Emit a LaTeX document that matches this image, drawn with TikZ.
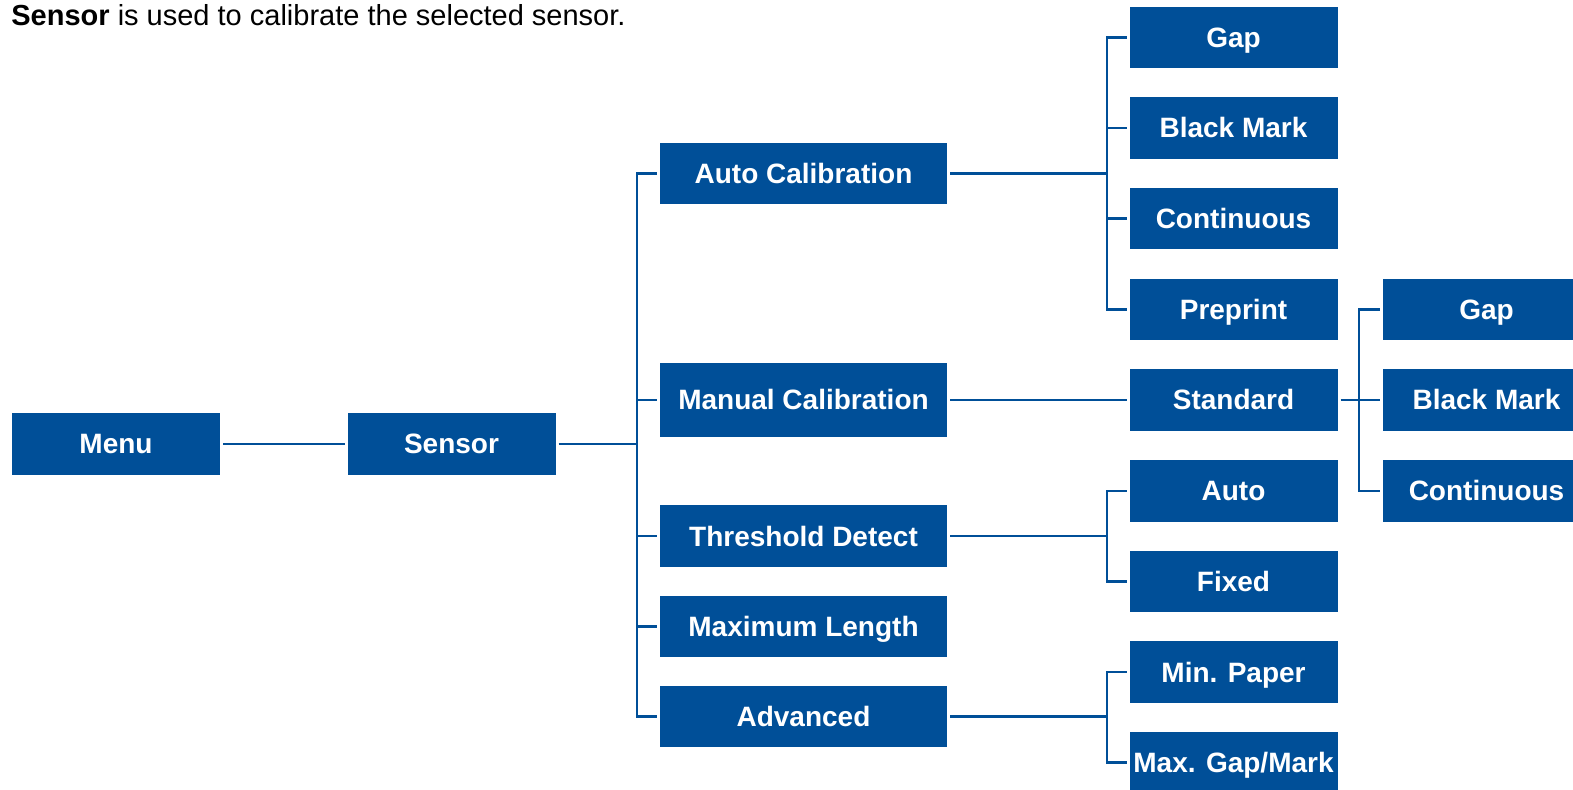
\documentclass[tikz,border=0pt]{standalone}
\usepackage{fontspec}
\setmainfont{Liberation Sans}
\definecolor{tblue}{RGB}{0,79,152}
\begin{document}
\begin{tikzpicture}[x=0.5pt,y=-0.5pt,
  box/.style={fill=tblue, text=white, font=\bfseries\fontsize{14}{16}\selectfont, inner sep=0pt, outer sep=1.5pt, minimum height=30.75pt, text height=10pt, text depth=0pt},
  boxA/.style={box, minimum width=104pt},
  boxB/.style={box, minimum width=143.5pt},
  link/.style={draw=tblue, line width=1.35pt, line join=miter}]
\useasboundingbox (0,0) rectangle (1573,790);
\clip (0,0) rectangle (1573,790);
\node[anchor=base west, inner sep=0pt, font=\fontsize{14.5}{17}\selectfont] (cap) at (11,26) {\textbf{Sensor} is used to calibrate the selected sensor.};
% level 0/1
\node[boxA] (menu) at (116,444) {Menu};
\node[boxA] (sensor) at (451.5,444) {Sensor};
% level 2
\node[boxB] (autocal) at (803.5,173.5) {Auto Calibration};
\node[boxB, minimum height=37pt] (manual) at (803.5,400) {Manual Calibration};
\node[boxB] (thresh) at (803.5,536) {Threshold Detect};
\node[boxB] (maxlen) at (803.5,626.5) {Maximum Length};
\node[boxB] (adv) at (803.5,716.7) {Advanced};
% level 3
\node[boxA] (gapa) at (1233.5,37.5) {Gap};
\node[boxA] (bma) at (1233.5,128) {Black Mark};
\node[boxA] (conta) at (1233.5,218.7) {Continuous};
\node[boxA] (pre) at (1233.5,309.5) {Preprint};
\node[boxA] (std) at (1233.5,400) {Standard};
\node[boxA] (autot) at (1233.5,491) {Auto};
\node[boxA] (fixed) at (1233.5,581.5) {Fixed};
\node[boxA] (minp) at (1233.5,672) {Min. Paper};
\node[boxA] (maxgap) at (1233.5,762.7) {Max. Gap/Mark};
% level 4
\node[boxA] (gapb) at (1486.5,309.5) {Gap};
\node[boxA] (bmb) at (1486.5,400) {Black Mark};
\node[boxA] (contb) at (1486.5,491) {Continuous};
% junction points
\coordinate (t1) at (637,444);
\coordinate (t2) at (1107,173.5);
\coordinate (t3) at (1359,400);
\coordinate (t4) at (1107,536);
\coordinate (t5) at (1107,716.7);
% connectors
\draw[link] (menu) -- (sensor);
\draw[link] (sensor.east) -- (t1);
\foreach \n in {autocal,manual,thresh,maxlen,adv} \draw[link] (t1) |- (\n.west);
\draw[link] (autocal.east) -- (t2);
\foreach \n in {gapa,bma,conta,pre} \draw[link] (t2) |- (\n.west);
\draw[link] (manual.east) -- (std.west);
\draw[link] (std.east) -- (t3);
\foreach \n in {gapb,bmb,contb} \draw[link] (t3) |- (\n.west);
\draw[link] (thresh.east) -- (t4);
\foreach \n in {autot,fixed} \draw[link] (t4) |- (\n.west);
\draw[link] (adv.east) -- (t5);
\foreach \n in {minp,maxgap} \draw[link] (t5) |- (\n.west);
\end{tikzpicture}
\end{document}
